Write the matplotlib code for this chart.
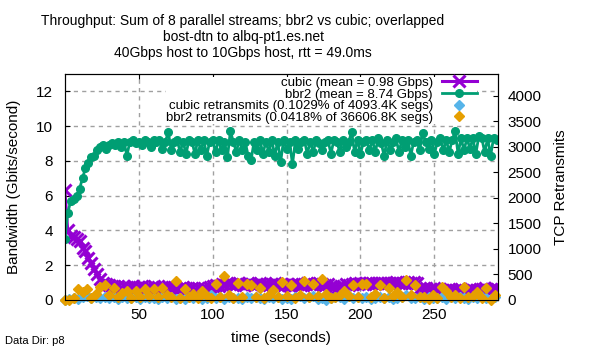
import numpy as np
import matplotlib
matplotlib.use("Agg")
import matplotlib.pyplot as plt

plt.rcParams['font.family'] = ['Liberation Sans', 'DejaVu Sans']

# throughput samples, one every 2 seconds (Gbps)
t_tput = np.arange(0, 293, 2)
bbr2 = [3.5, 5.0, 5.7, 5.8, 6.0, 6.4, 7.0, 7.6, 7.9, 8.2,
        8.3, 8.6, 8.8, 8.9, 8.7, 8.9, 9.0, 8.9, 9.1, 8.8,
        9.1, 8.3, 9.1, 9.2, 9.0, 9.1, 8.9, 9.2, 9.1, 8.8,
        9.2, 9.1, 9.2, 8.7, 9.1, 9.65, 8.6, 9.1, 9.2, 8.5,
        9.1, 8.4, 9.2, 9.1, 8.4, 9.2, 8.6, 9.2, 8.3, 9.1,
        9.2, 8.5, 9.2, 8.6, 9.1, 8.2, 9.7, 9.1, 8.5, 9.2,
        8.6, 9.1, 8.3, 8.05, 9.1, 8.6, 9.2, 8.4, 9.1, 8.5,
        9.2, 8.3, 9.1, 7.95, 9.2, 8.7, 9.1, 7.8, 9.2, 8.7,
        9.1, 9.2, 8.4, 9.1, 8.5, 9.2, 9.0, 8.6, 9.1, 9.2,
        8.4, 9.2, 9.1, 8.5, 9.2, 8.8, 9.1, 9.65, 8.5, 9.2,
        8.4, 9.1, 9.2, 8.6, 9.2, 8.5, 9.3, 9.0, 8.3, 9.2,
        8.6, 9.1, 9.3, 8.5, 9.2, 8.8, 9.2, 8.3, 9.1, 9.2,
        8.6, 9.6, 9.1, 8.7, 9.2, 8.4, 9.1, 9.3, 8.6, 9.2,
        8.5, 9.2, 9.7, 8.4, 9.3, 8.6, 9.3, 8.7, 9.3, 8.4,
        9.4, 9.3, 8.5, 9.3, 8.3, 9.3, 9.2]
cubic = [6.3, 4.0, 3.7, 3.6, 3.5, 3.4, 3.0, 2.8, 2.4, 2.1,
         1.8, 1.5, 1.2, 1.0, 0.9, 0.85, 0.8, 0.75, 0.8, 0.7,
         0.8, 0.75, 0.7, 0.8, 0.7, 0.75, 0.8, 0.7, 0.75, 0.7,
         0.8, 0.7, 0.65, 0.75, 0.7, 0.8, 0.7, 0.75, 0.65, 0.7,
         0.75, 0.7, 0.65, 0.7, 0.6, 0.7, 0.65, 0.7, 0.6, 0.75,
         0.8, 0.85, 0.8, 0.9, 0.85, 0.95, 0.9, 0.85, 0.9, 0.95,
         0.9, 0.85, 0.95, 0.9, 0.85, 0.9, 0.95, 0.85, 0.9, 0.85,
         0.9, 0.95, 0.85, 0.9, 0.85, 0.9, 0.8, 0.9, 0.85, 0.9,
         0.85, 0.9, 0.95, 0.9, 0.85, 0.9, 0.95, 0.9, 0.85, 0.9,
         0.8, 0.75, 0.7, 0.75, 0.8, 0.9, 0.85, 0.9, 0.95, 0.9,
         0.95, 0.9, 0.95, 1.0, 0.95, 0.9, 0.95, 1.0, 0.95, 1.0,
         1.0, 0.95, 1.05, 1.0, 0.95, 1.0, 1.05, 1.0, 1.05, 1.0,
         0.7, 0.65, 0.7, 0.6, 0.65, 0.7, 0.6, 0.65, 0.55, 0.6,
         0.65, 0.6, 0.55, 0.6, 0.65, 0.5, 0.6, 0.65, 0.6, 0.55,
         0.6, 0.65, 0.7, 0.6, 0.65, 0.7, 0.65]

# retransmits, one every 3 seconds (segments)
t_retr = np.arange(0, 292, 3)
cubic_retr = [0, 10, 40, 20, 50, 85, 30, 60, 40, 50,
              30, 50, 20, 60, 40, 30, 50, 20, 60, 30,
              40, 20, 60, 30, 50, 20, 40, 10, 50, 30,
              60, 20, 40, 90, 30, 50, 20, 60, 30, 40,
              20, 50, 30, 60, 40, 20, 50, 30, 60, 20,
              40, 10, 50, 80, 30, 60, 80, 20, 40, 0,
              30, 50, 60, 20, 85, 40, 60, 30, 50, 20,
              40, 60, 30, 50, 20, 40, 60, 90, 40, 30,
              50, 20, 60, 30, 40, 60, 20, 50, 30, 60,
              40, 20, 50, 30, 60, 40, 20, 50]
bbr2_retr = [0, 0, 30, 215, 156, 220, 40, 120, 250, 290,
             100, 240, 60, 135, 175, 40, 175, 60, 215, 80,
             215, 50, 240, 100, 60, 370, 40, 215, 60, 117,
             30, 175, 80, 40, 310, 60, 470, 100, 40, 330,
             60, 310, 290, 60, 235, 40, 100, 195, 60, 350,
             80, 290, 40, 100, 370, 60, 310, 80, 410, 115,
             40, 60, 100, 175, 80, 290, 60, 310, 310, 60,
             115, 290, 40, 235, 80, 155, 60, 390, 100, 290,
             50, 60, 20, 100, 40, 250, 175, 60, 100, 40,
             260, 50, 80, 155, 30, 235, 0, 100]

fig = plt.figure(figsize=(6, 3.5), dpi=100)
ax = fig.add_axes([0.108, 0.143, 0.722, 0.646])
ax2 = ax.twinx()

l1, = ax.plot(t_tput, cubic, color='#9400D3', marker='x', markersize=8,
              markeredgewidth=2.2, linewidth=2.2,
              label='cubic (mean = 0.98 Gbps)')
l2, = ax.plot(t_tput, bbr2, color='#009E73', marker='o', markersize=5.5,
              linewidth=2, label='bbr2 (mean = 8.74 Gbps)')
s1, = ax2.plot(t_retr, cubic_retr, linestyle='none', marker='D',
               markersize=5, color='#56B4E9', clip_on=False,
               label='cubic retransmits (0.1029% of 4093.4K segs)')
s2, = ax2.plot(t_retr, bbr2_retr, linestyle='none', marker='D',
               markersize=5, color='#E69F00', clip_on=False,
               label='bbr2 retransmits (0.0418% of 36606.8K segs)')

ax.set_xlim(0, 293)
ax.set_ylim(0, 13)
ax2.set_ylim(0, 4430)
ax.set_xticks([50, 100, 150, 200, 250])
ax.set_yticks(range(0, 13, 2))
ax2.set_yticks(range(0, 4001, 500))
ax.grid(True, color='#a0a0a0', linestyle=(0, (3, 3)), linewidth=1)
ax.tick_params(axis='x', direction='in', labelsize=11, top=True, pad=6)
ax.tick_params(axis='y', direction='in', labelsize=11, pad=8.5)
ax2.tick_params(direction='in', labelsize=11, pad=7)

ax.set_xlabel('time (seconds)', fontsize=11, labelpad=6)
ax.set_ylabel('Bandwidth (Gbits/second)', fontsize=11, labelpad=11)
ax2.set_ylabel('TCP Retransmits', fontsize=11, labelpad=9)

leg = ax2.legend(handles=[l1, l2, s1, s2], loc='upper right',
                 bbox_to_anchor=(0.951, 0.987),
                 markerfirst=False, fontsize=9.5, frameon=True,
                 framealpha=1, edgecolor='none', fancybox=False,
                 borderpad=0, labelspacing=-0.05, handlelength=2.65,
                 handletextpad=0.68, borderaxespad=0)

fig.text(0.405, 0.894, 'Throughput: Sum of 8 parallel streams; bbr2 vs cubic; overlapped\n'
         'bost-dtn to albq-pt1.es.net\n40Gbps host to 10Gbps host, rtt = 49.0ms',
         ha='center', va='center', fontsize=10, linespacing=1.15)
fig.text(0.008, 0.026, 'Data Dir: p8', fontsize=8, ha='left', va='center')

fig.savefig('out.png', dpi=100)
